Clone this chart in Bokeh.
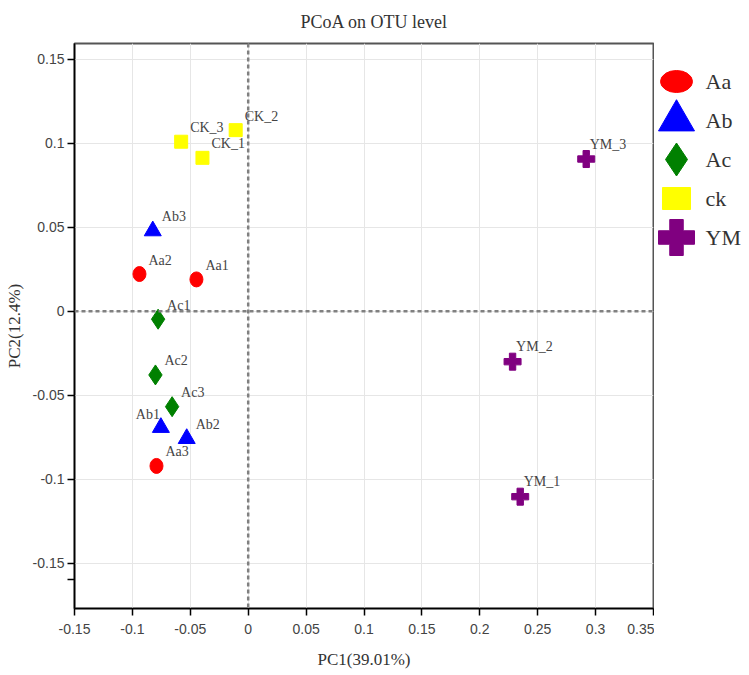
from bokeh.plotting import figure
from bokeh.models import Range1d, FixedTicker, Span, ColumnDataSource
from bokeh.layouts import row
from bokeh.embed import file_html
from bokeh.resources import INLINE
from bokeh.core.properties import value

# ---------------- data ----------------
groups = ["Aa", "Ab", "Ac", "ck", "YM"]

aa_names = ["Aa1", "Aa2", "Aa3"]
aa_pc1 = [-0.0447, -0.0939, -0.0792]
aa_pc2 = [0.0190, 0.0222, -0.0921]

ab_names = ["Ab1", "Ab2", "Ab3"]
ab_pc1 = [-0.0754, -0.0531, -0.0824]
ab_pc2 = [-0.0692, -0.0758, 0.0479]

ac_names = ["Ac1", "Ac2", "Ac3"]
ac_pc1 = [-0.0778, -0.0801, -0.0657]
ac_pc2 = [-0.0047, -0.0379, -0.0568]

ck_names = ["CK_1", "CK_2", "CK_3"]
ck_pc1 = [-0.0395, -0.0108, -0.0579]
ck_pc2 = [0.0914, 0.1079, 0.1010]

ym_names = ["YM_1", "YM_2", "YM_3"]
ym_pc1 = [0.2349, 0.2283, 0.2919]
ym_pc2 = [-0.1104, -0.0300, 0.0907]

x_ticks = [-0.15, -0.1, -0.05, 0, 0.05, 0.1, 0.15, 0.2, 0.25, 0.3, 0.35]
x_tick_labels = ["-0.15", "-0.1", "-0.05", "0", "0.05", "0.1", "0.15", "0.2", "0.25", "0.3", "0.35"]
y_ticks = [-0.15, -0.1, -0.05, 0, 0.05, 0.1, 0.15]
y_tick_labels = ["-0.15", "-0.1", "-0.05", "0", "0.05", "0.1", "0.15"]
y_minor_ticks = [-0.16]

title_text = "PCoA on OTU level"
x_label = "PC1(39.01%)"
y_label = "PC2(12.4%)"

# ---------------- styles ----------------
SERIF = "Liberation Serif"
SANS = "Liberation Sans"
H = 674
MAIN_W = 654
FRAME_TOP = 43
BOTTOM_BORDER = 66

p = figure(width=MAIN_W, height=H,
           x_range=Range1d(-0.15, 0.35), y_range=Range1d(-0.177, 0.1595),
           output_backend="svg", toolbar_location=None,
           min_border_left=74, min_border_right=1,
           min_border_top=FRAME_TOP, min_border_bottom=BOTTOM_BORDER)

p.title.text = title_text
p.title.align = "left"
p.title.offset = 226
p.title.vertical_align = "top"
p.title.standoff = 19
p.title.text_font = SERIF
p.title.text_font_size = "18px"
p.title.text_font_style = "normal"
p.title.text_color = "#333333"

p.xaxis.ticker = FixedTicker(ticks=x_ticks)
p.xaxis.major_label_overrides = {t: l for t, l in zip(x_ticks, x_tick_labels)}
p.yaxis.ticker = FixedTicker(ticks=y_ticks, minor_ticks=y_minor_ticks)
p.yaxis.major_label_overrides = {t: l for t, l in zip(y_ticks, y_tick_labels)}
p.xgrid.ticker = FixedTicker(ticks=x_ticks)
p.ygrid.ticker = FixedTicker(ticks=y_ticks)
p.grid.grid_line_color = "#e6e6e6"
p.grid.grid_line_width = 1

for ax in (p.xaxis[0], p.yaxis[0]):
    ax.axis_line_color = "black"
    ax.axis_line_width = 1.5
    ax.major_tick_line_color = "black"
    ax.major_tick_line_width = 1.5
    ax.major_tick_out = 7
    ax.major_tick_in = 0
    ax.major_label_text_font = SANS
    ax.major_label_text_font_size = "14px"
    ax.major_label_text_color = "#444444"
    ax.axis_label_text_font = SERIF
    ax.axis_label_text_font_size = "17px"
    ax.axis_label_text_font_style = "normal"
    ax.axis_label_text_color = "#333333"

p.xaxis.minor_tick_line_color = None
p.yaxis.minor_tick_line_color = "black"
p.yaxis.minor_tick_line_width = 1.5
p.yaxis.minor_tick_out = 7
p.yaxis.minor_tick_in = 0
p.xaxis.major_label_standoff = 8
p.yaxis.major_label_standoff = 3
p.xaxis.axis_label = x_label
p.yaxis.axis_label = y_label
p.xaxis.axis_label_standoff = 13
p.yaxis.axis_label_standoff = 6

p.outline_line_color = "#555555"
p.outline_line_width = 2

p.add_layout(Span(location=0, dimension="height", line_color="#808080",
                  line_width=2.5, line_dash="4 3"))
p.add_layout(Span(location=0, dimension="width", line_color="#808080",
                  line_width=2.5, line_dash="4 3"))

# markers
p.ellipse(x=aa_pc1, y=aa_pc2, width=13, height=15,
          width_units="screen", height_units="screen",
          fill_color="red", line_color="red")
p.scatter(x=ab_pc1, y=ab_pc2, marker="triangle", size=17, fill_color="blue", line_color="blue")
p.scatter(x=ac_pc1, y=ac_pc2, marker="diamond", size=20, fill_color="green", line_color="green")
p.scatter(x=ck_pc1, y=ck_pc2, marker="square", size=13, fill_color="yellow", line_color="yellow")
p.scatter(x=ym_pc1, y=ym_pc2, marker="plus", size=17, fill_color="purple", line_color="purple")

# labels
all_names = aa_names + ab_names + ac_names + ck_names + ym_names
all_x = aa_pc1 + ab_pc1 + ac_pc1 + ck_pc1 + ym_pc1
all_y = aa_pc2 + ab_pc2 + ac_pc2 + ck_pc2 + ym_pc2
dx, dy, align = [], [], []
for n in all_names:
    if n == "Ab1":
        dx.append(-1); dy.append(-13); align.append("right")
    elif n.startswith("YM"):
        dx.append(3.5); dy.append(-15); align.append("left")
    else:
        dx.append(9); dy.append(-14); align.append("left")
src = ColumnDataSource(dict(x=all_x, y=all_y, t=all_names, dx=dx, dy=dy, al=align))
p.text(x="x", y="y", text="t", x_offset="dx", y_offset="dy", text_align="al",
       text_baseline="middle", text_font=value(SERIF), text_font_size="14px",
       text_color="#444444", source=src)

# ---------------- legend panel ----------------
# frame of this panel is aligned with the main frame (page y 43 .. 608)
LW = 94
lg = figure(width=LW, height=H, x_range=Range1d(0, LW),
            y_range=Range1d(H - BOTTOM_BORDER, FRAME_TOP),
            x_axis_type=None, y_axis_type=None, output_backend="svg",
            toolbar_location=None, min_border=0)
lg.grid.visible = False
lg.outline_line_color = None

row_y = [81 + 39 * i for i in range(len(groups))]
mx = 22
lg.ellipse(x=[mx], y=[row_y[0]], width=32, height=22, width_units="screen",
           height_units="screen", fill_color="red", line_color="red")
lg.scatter(x=[mx], y=[row_y[1]], marker="triangle", size=36, fill_color="blue", line_color="blue")
lg.scatter(x=[mx], y=[row_y[2]], marker="diamond", size=33, fill_color="green", line_color="green")
lg.rect(x=[mx], y=[row_y[3]], width=28, height=22, width_units="screen",
        height_units="screen", fill_color="yellow", line_color="yellow")
lg.scatter(x=[mx], y=[row_y[4]], marker="plus", size=36, fill_color="purple", line_color="purple")
lg.text(x=[51] * len(groups), y=row_y, text=groups, text_baseline="middle",
        text_align="left", text_font=value(SERIF), text_font_size="22px",
        text_color="#333333")

layout = row(p, lg)
open("out.html", "w").write(file_html(layout, INLINE))
